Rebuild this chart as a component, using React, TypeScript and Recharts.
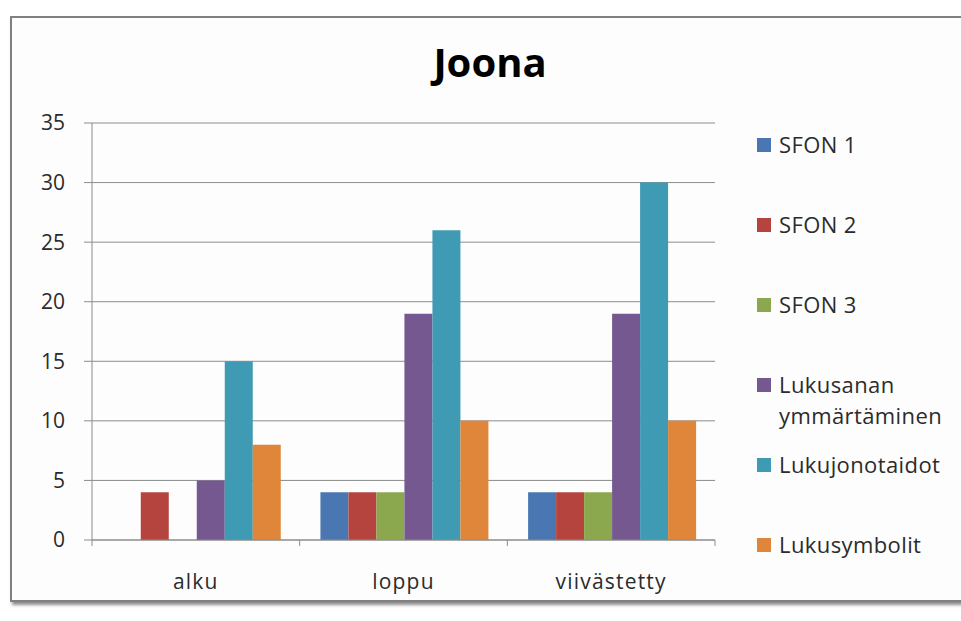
import React from 'react';
import { BarChart, Bar, XAxis, YAxis, CartesianGrid, Legend } from 'recharts';

const categories = ['alku', 'loppu', 'viivästetty'];
const seriesNames = [
  'SFON 1',
  'SFON 2',
  'SFON 3',
  'Lukusanan ymmärtäminen',
  'Lukujonotaidot',
  'Lukusymbolit',
];
const sfon1 = [0, 4, 4];
const sfon2 = [4, 4, 4];
const sfon3 = [0, 4, 4];
const lukusanan = [5, 19, 19];
const lukujono = [15, 26, 30];
const lukusymbolit = [8, 10, 10];
const yTicks = [0, 5, 10, 15, 20, 25, 30, 35];

const seriesValues = [sfon1, sfon2, sfon3, lukusanan, lukujono, lukusymbolit];
const colors = ['#4A77B2', '#B5443F', '#8CA84F', '#74588F', '#3F9AB3', '#E0863A'];

const data = categories.map((c, i) => {
  const row: Record<string, string | number> = { name: c };
  seriesNames.forEach((s, k) => {
    row[s] = seriesValues[k][i];
  });
  return row;
});

const W = 961;
const H = 621;
const margin = { top: 123, right: 246, bottom: 21, left: 0 };
const yAxisWidth = 92;
const band = (W - margin.right - margin.left - yAxisWidth) / categories.length;
const FONT = '"Open Sans", sans-serif';
const GRID = '#8c8c8c';
const TEXT = '#2b2b2b';

const XTick = (props: any) => {
  const { x, y, payload, index } = props;
  const left = x - band / 2;
  const right = x + band / 2;
  return (
    <g>
      <line x1={left} y1={y} x2={left} y2={y + 6} stroke={GRID} />
      {index === categories.length - 1 && (
        <line x1={right} y1={y} x2={right} y2={y + 6} stroke={GRID} />
      )}
      <text
        x={x}
        y={y + 41}
        textAnchor="middle"
        dominantBaseline="central"
        fontFamily={FONT}
        fontSize={21}
        letterSpacing={1.2}
        fill={TEXT}
      >
        {payload.value}
      </text>
    </g>
  );
};

// Legend keeps the series order of the bars
const LegendContent = () => (
  <div style={{ fontFamily: FONT, fontSize: 22, color: TEXT }}>
    {seriesNames.map((name, k) => (
      <div key={name} style={{ height: 80, display: 'flex', alignItems: 'flex-start' }}>
        <div style={{ width: 14, height: 14, background: colors[k], marginTop: 9, marginRight: 8, flexShrink: 0 }} />
        <div style={{ lineHeight: '31px', width: 185, letterSpacing: 0.4 }}>{name}</div>
      </div>
    ))}
  </div>
);

export default function App() {
  return (
    <div style={{ position: 'absolute', left: 0, top: 0, width: W, height: H, background: '#ffffff', overflow: 'hidden' }}>
      <div
        style={{
          position: 'absolute',
          left: 10,
          top: 16,
          width: 970,
          height: 582,
          border: '2px solid #808080',
          boxShadow: '2px 3px 3px rgba(0,0,0,0.45)',
          background: '#fdfdfd',
        }}
      />
      <div style={{ position: 'absolute', left: 0, top: 0 }}>
        <BarChart width={W} height={H} data={data} margin={margin} barCategoryGap="10%" barGap={0}>
          <text x={490} y={61} textAnchor="middle" dominantBaseline="central" fontFamily={FONT} fontWeight={700} fontSize={40} fill="#000">
            Joona
          </text>
          <CartesianGrid vertical={false} stroke={GRID} />
          <XAxis
            dataKey="name"
            axisLine={{ stroke: GRID }}
            tickLine={false}
            tickSize={0}
            tickMargin={0}
            height={60}
            interval={0}
            tick={<XTick />}
          />
          <YAxis
            width={yAxisWidth}
            domain={[0, 35]}
            ticks={yTicks}
            interval={0}
            axisLine={{ stroke: GRID }}
            tickLine={{ stroke: GRID }}
            tickSize={8}
            tickMargin={19}
            tick={{ fontFamily: FONT, fontSize: 21, fill: TEXT }}
          />
          <Legend
            layout="vertical"
            align="center"
            verticalAlign="middle"
            content={<LegendContent />}
            wrapperStyle={{ position: 'absolute', left: 757, top: 129, width: 204 }}
          />
          {seriesNames.map((s, k) => (
            <Bar key={s} dataKey={s} fill={colors[k]} isAnimationActive={false} />
          ))}
        </BarChart>
      </div>
    </div>
  );
}
